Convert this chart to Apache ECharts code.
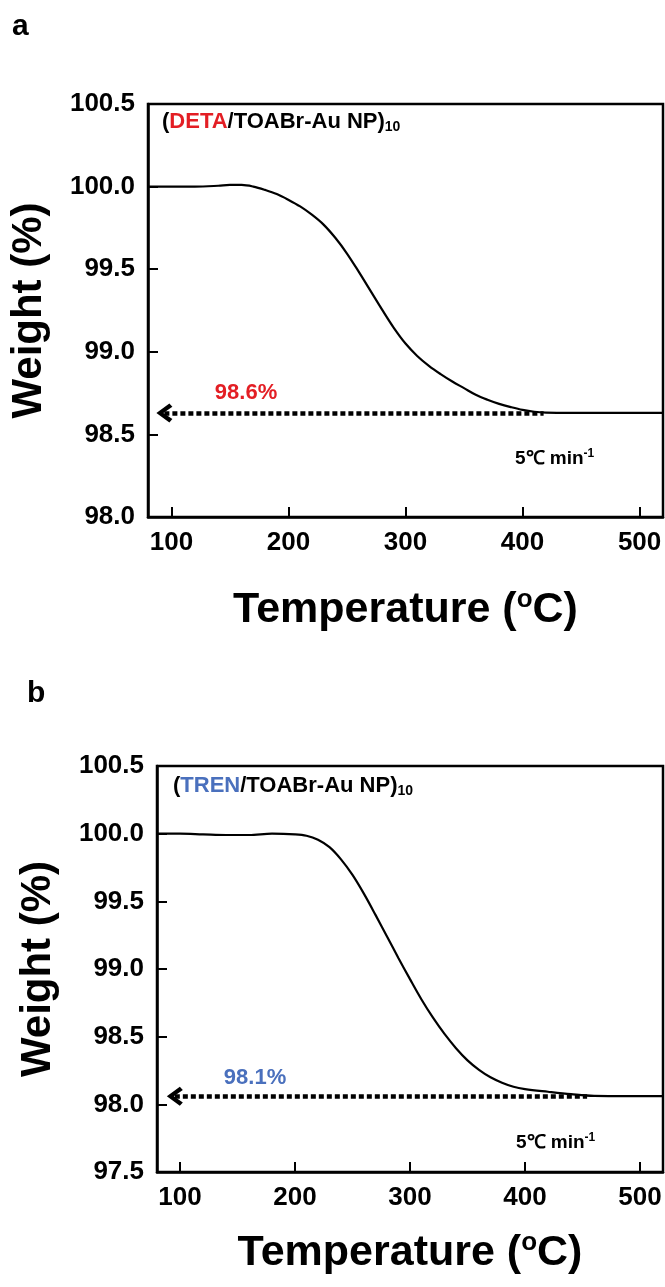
<!DOCTYPE html>
<html>
<head>
<meta charset="utf-8">
<script src="https://cdn.jsdelivr.net/npm/echarts@6/dist/echarts.min.js"></script>
<style>
  html, body { margin: 0; padding: 0; background: #fff; }
  #main { width: 665px; height: 1287px; }
</style>
</head>
<body>
<div id="main"></div>
<script>
    // panel a : (DETA/TOABr-Au NP)10
    const tempA = [80, 100, 120, 140, 150, 160, 170, 180, 190, 200, 210, 220, 230, 240, 250, 260, 270, 280, 290, 300,
        310, 320, 330, 340, 350, 360, 370, 380, 390, 400, 410, 420, 440, 470, 500, 520]
    const weightA = [100.0, 100.0, 100.0, 100.005, 100.01, 100.01, 100.0, 99.98, 99.955, 99.92, 99.88, 99.83, 99.77, 99.69, 99.595, 99.485, 99.37, 99.255, 99.145, 99.05,
        98.975, 98.915, 98.865, 98.82, 98.78, 98.74, 98.71, 98.685, 98.665, 98.648, 98.637, 98.632, 98.63, 98.63, 98.63, 98.63]
    // panel b : (TREN/TOABr-Au NP)10
    const tempB = [80, 100, 120, 140, 160, 180, 200, 210, 220, 230, 240, 250, 260, 270, 280, 290, 300, 310, 320, 330,
        340, 350, 360, 370, 380, 390, 400, 420, 440, 460, 490, 520]
    const weightB = [100.0, 100.0, 99.995, 99.99, 99.99, 100.0, 99.995, 99.985, 99.955, 99.9, 99.81, 99.695, 99.555, 99.40, 99.24, 99.08, 98.925, 98.775, 98.64, 98.52,
        98.415, 98.325, 98.255, 98.2, 98.16, 98.13, 98.113, 98.093, 98.075, 98.062, 98.06, 98.06]

    const xTicks = [100, 200, 300, 400, 500]
    // residue arrows [tip, tail]
    const arrowA = [[94, 98.63], [418, 98.63]]
    const arrowB = [[95.5, 98.06], [454, 98.06]]

    const FONT = "'Liberation Sans', Arial, sans-serif"
    const RED = '#e31e24'
    const BLUE = '#4a70bd'
    const chevron = 'path://M10,0 L20,13 L16.5,16 L10,7 L3.5,16 L0,13 Z'

    let zip = (xs, ys) => xs.map((x, i) => [x, ys[i]])

    let xAxisOf = (idx, gap) => ({
        gridIndex: idx,
        type: 'value',
        min: 80,
        max: 520,
        name: '{t|Temperature (}{o|o}{t|C)}',
        nameLocation: 'middle',
        nameGap: gap,
        nameTextStyle: {
            rich: {
                t: { fontSize: 43, fontWeight: 'bold', fontFamily: FONT, color: '#000', lineHeight: 46 },
                o: { fontSize: 26, fontWeight: 'bold', fontFamily: FONT, color: '#000', verticalAlign: 'top', lineHeight: 26 }
            }
        },
        axisLine: { show: true, onZero: false, lineStyle: { color: '#000', width: 2.5 } },
        axisTick: { show: true, inside: true, length: 10, customValues: xTicks, lineStyle: { color: '#000', width: 2 } },
        axisLabel: { customValues: xTicks, margin: 13, fontSize: 26, fontWeight: 'bold', fontFamily: FONT, color: '#000' },
        splitLine: { show: false }
    })

    let yAxisOf = (idx, min, gap) => ({
        gridIndex: idx,
        type: 'value',
        min,
        max: 100.5,
        interval: 0.5,
        name: 'Weight (%)',
        nameLocation: 'middle',
        nameGap: gap,
        nameRotate: 90,
        nameTextStyle: { fontSize: 42, fontWeight: 'bold', fontFamily: FONT, color: '#000' },
        axisLine: { show: true, onZero: false, lineStyle: { color: '#000', width: 2.5 } },
        axisTick: { show: true, inside: true, length: 10, lineStyle: { color: '#000', width: 2 } },
        axisLabel: {
            margin: 13, fontSize: 26, fontWeight: 'bold', fontFamily: FONT, color: '#000',
            formatter: (v) => v.toFixed(1)
        },
        splitLine: { show: false }
    })

    let curve = (idx, xs, ys, arrow) => ({
        type: 'line',
        xAxisIndex: idx,
        yAxisIndex: idx,
        data: zip(xs, ys),
        showSymbol: false,
        smooth: 0.35,
        lineStyle: { color: '#000', width: 2.2 },
        silent: true,
        animation: false,
        markLine: {
            silent: true,
            animation: false,
            symbol: [chevron, 'none'],
            symbolSize: [19, 16],
            label: { show: false },
            lineStyle: { color: '#000', width: 4.5, type: [5, 3], cap: 'butt' },
            data: [[{ coord: arrow[0] }, { coord: arrow[1] }]]
        }
    })

    let plotTitle = (left, top, name, color) => ({
        type: 'text',
        left, top,
        style: {
            text: `{p|(}{c|${name}}{p|/TOABr-Au NP)}{s|10}`,
            rich: {
                p: { fontSize: 22, fontWeight: 'bold', fontFamily: FONT, fill: '#000', lineHeight: 24 },
                c: { fontSize: 22, fontWeight: 'bold', fontFamily: FONT, fill: color, lineHeight: 24 },
                s: { fontSize: 14, fontWeight: 'bold', fontFamily: FONT, fill: '#000', verticalAlign: 'bottom', lineHeight: 14, padding: [9, 0, 0, 0] }
            }
        }
    })

    let rate = (left, top) => ({
        type: 'text',
        left, top,
        style: {
            text: '{n|5℃ min}{s|-1}',
            rich: {
                n: { fontSize: 19, fontWeight: 'bold', fontFamily: FONT, fill: '#000', lineHeight: 22 },
                s: { fontSize: 12, fontWeight: 'bold', fontFamily: FONT, fill: '#000', verticalAlign: 'top', lineHeight: 12 }
            }
        }
    })

    let residueText = (x, y, text, color) => ({
        type: 'text',
        x, y,
        style: { text, fill: color, fontSize: 22, fontWeight: 'bold', fontFamily: FONT, align: 'center', verticalAlign: 'middle' }
    })

    let chart = echarts.init(document.getElementById('main'), null, { renderer: 'canvas' })
    chart.setOption({
        animation: false,
        backgroundColor: '#fff',
        grid: [
            { left: 146, top: 104, width: 517, height: 413, show: true, borderColor: '#000', borderWidth: 2.5 },
            { left: 157, top: 766, width: 506, height: 406, show: true, borderColor: '#000', borderWidth: 2.5 }
        ],
        xAxis: [xAxisOf(0, 70), xAxisOf(1, 58)],
        yAxis: [yAxisOf(0, 98.0, 98), yAxisOf(1, 97.5, 98)],
        series: [
            curve(0, tempA, weightA, arrowA),
            curve(1, tempB, weightB, arrowB)
        ],
        graphic: [
            { type: 'text', left: 12, top: 12, style: { text: 'a', fontSize: 30, fontWeight: 'bold', fontFamily: FONT, fill: '#000' } },
            { type: 'text', left: 27, top: 679, style: { text: 'b', fontSize: 30, fontWeight: 'bold', fontFamily: FONT, fill: '#000' } },
            plotTitle(162, 111, 'DETA', RED),
            plotTitle(173, 775, 'TREN', BLUE),
            residueText(246, 393, '98.6%', RED),
            residueText(255, 1078, '98.1%', BLUE),
            rate(515, 448),
            rate(516, 1132)
        ]
    })
</script>
</body>
</html>
